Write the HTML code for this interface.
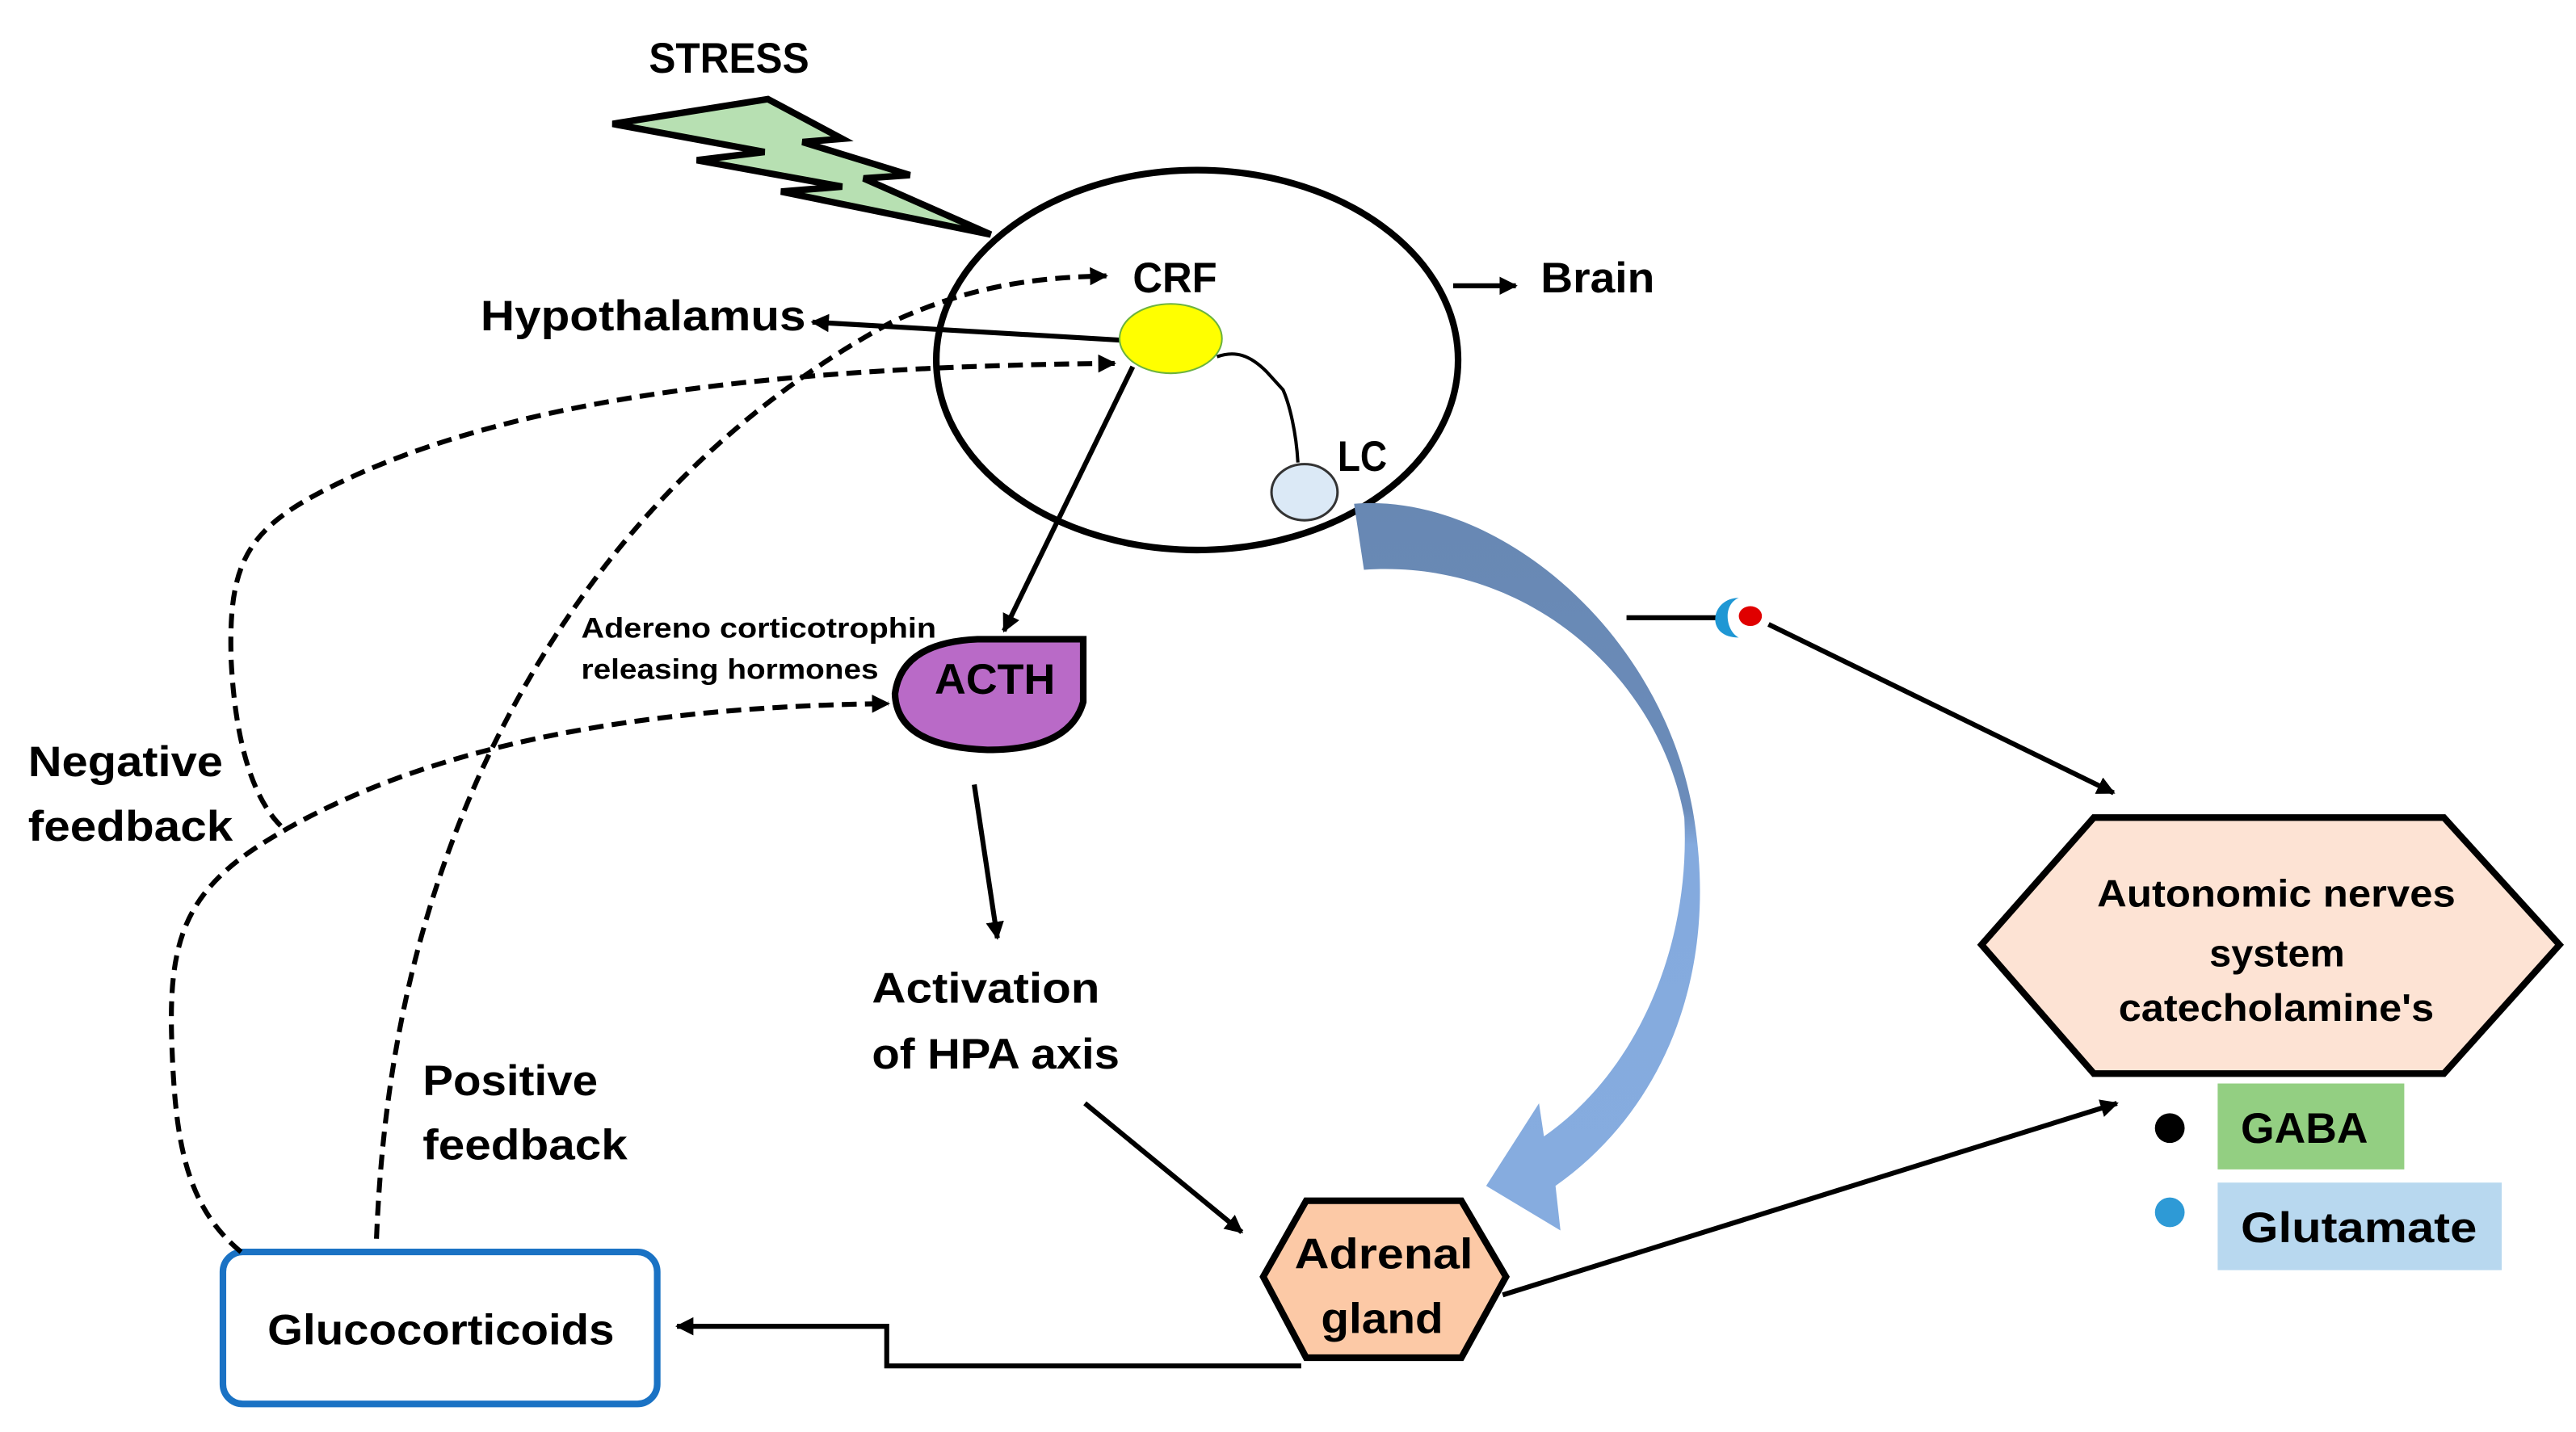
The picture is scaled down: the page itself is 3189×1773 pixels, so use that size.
<!DOCTYPE html>
<html><head><meta charset="utf-8"><style>html,body{margin:0;padding:0;background:#fff}svg{display:block}text{font-family:"Liberation Sans",sans-serif;font-weight:bold;fill:#000}</style></head>
<body>
<svg xmlns="http://www.w3.org/2000/svg" width="3189" height="1773" viewBox="0 0 1560 867" preserveAspectRatio="none">
<defs>
<marker id="ah" viewBox="0 0 10 10" refX="9" refY="5" markerWidth="5" markerHeight="5" orient="auto-start-reverse" markerUnits="userSpaceOnUse"><path d="M0,0 L10,5 L0,10 z" fill="#000"/></marker>
<marker id="ah2" viewBox="0 0 10 10" refX="9" refY="5" markerWidth="11" markerHeight="11" orient="auto" markerUnits="userSpaceOnUse"><path d="M0,0 L10,5 L0,10 z" fill="#000"/></marker>
<linearGradient id="bg" x1="0" y1="0" x2="0" y2="1"><stop offset="0" stop-color="#6888b3"/><stop offset="0.42" stop-color="#6b8cba"/><stop offset="0.47" stop-color="#84aade"/><stop offset="1" stop-color="#86acdf"/></linearGradient>
</defs>

<!-- lightning -->
<polygon points="371,75 465,60 510,84 486,86 551,106 523,108 600,142 473,116 510,113 422,97 463,92" fill="#b7e0b2" stroke="#000" stroke-width="4" stroke-linejoin="miter"/>
<text x="393" y="44" font-size="26" textLength="97" lengthAdjust="spacingAndGlyphs">STRESS</text>

<!-- big circle -->
<ellipse cx="725" cy="218" rx="158" ry="115" fill="none" stroke="#000" stroke-width="4"/>

<!-- blue curved arrow -->
<path d="M820,305 C905,298 1005,380 1025,490 C1042,585 1010,670 942,718 L945,745 L900,718 L932,668 L935,688 C990,650 1024,575 1020,495 C1005,410 925,338 826,345 Z" fill="url(#bg)"/>

<!-- CRF -->
<text x="686" y="177" font-size="26" textLength="51" lengthAdjust="spacingAndGlyphs">CRF</text>
<line x1="680" y1="206" x2="492" y2="195" stroke="#000" stroke-width="3" marker-end="url(#ah2)"/>
<ellipse cx="709" cy="205" rx="31" ry="21" fill="#ffff00" stroke="#6cb33f" stroke-width="1"/>
<text x="291" y="200" font-size="26" textLength="197" lengthAdjust="spacingAndGlyphs">Hypothalamus</text>
<line x1="880" y1="173" x2="918" y2="173" stroke="#000" stroke-width="3" marker-end="url(#ah2)"/>
<text x="933" y="177" font-size="26" textLength="69" lengthAdjust="spacingAndGlyphs">Brain</text>
<path d="M737,216 C748,212 757,215 767,225 L777,236 C781,245 785,262 786,280" fill="none" stroke="#000" stroke-width="2"/>
<ellipse cx="790" cy="298" rx="20" ry="17" fill="#dbe9f6" stroke="#333" stroke-width="1.5"/>
<text x="810" y="285" font-size="26" textLength="30" lengthAdjust="spacingAndGlyphs">LC</text>

<!-- CRF -> ACTH -->
<line x1="686" y1="222" x2="608" y2="382" stroke="#000" stroke-width="3" marker-end="url(#ah2)"/>
<path d="M542,420 Q546,389 592,387 L656,387 L656,425 Q648,454 598,454 Q543,452 542,420 Z" fill="#b96ac7" stroke="#000" stroke-width="4"/>
<text x="566" y="420" font-size="26" textLength="73" lengthAdjust="spacingAndGlyphs">ACTH</text>
<text x="352" y="386" font-size="17" textLength="215" lengthAdjust="spacingAndGlyphs">Adereno corticotrophin</text>
<text x="352" y="411" font-size="17" textLength="180" lengthAdjust="spacingAndGlyphs">releasing hormones</text>

<line x1="590" y1="475" x2="604" y2="568" stroke="#000" stroke-width="3" marker-end="url(#ah2)"/>
<text x="528" y="607" font-size="26" textLength="138" lengthAdjust="spacingAndGlyphs">Activation</text>
<text x="528" y="647" font-size="26" textLength="150" lengthAdjust="spacingAndGlyphs">of HPA axis</text>
<line x1="657" y1="668" x2="752" y2="746" stroke="#000" stroke-width="3" marker-end="url(#ah2)"/>

<!-- Adrenal -->
<polygon points="765,773 791,727 885,727 912,773 885,822 791,822" fill="#fcc9a6" stroke="#000" stroke-width="4"/>
<text x="784" y="768" font-size="26" textLength="108" lengthAdjust="spacingAndGlyphs">Adrenal</text>
<text x="800" y="807" font-size="26" textLength="74" lengthAdjust="spacingAndGlyphs">gland</text>

<!-- Glucocorticoids -->
<rect x="135" y="758" width="263" height="92" rx="12" fill="#fff" stroke="#1a72c4" stroke-width="4"/>
<text x="162" y="814" font-size="26" textLength="210" lengthAdjust="spacingAndGlyphs">Glucocorticoids</text>
<polyline points="788,827 537,827 537,803 410,803" fill="none" stroke="#000" stroke-width="3" marker-end="url(#ah2)"/>

<!-- Adrenal -> autonomic -->
<line x1="910" y1="784" x2="1282" y2="668" stroke="#000" stroke-width="3" marker-end="url(#ah2)"/>

<!-- Autonomic -->
<polygon points="1200,572 1268,495 1480,495 1550,572 1480,650 1268,650" fill="#fde3d4" stroke="#000" stroke-width="4"/>
<text x="1270" y="549" font-size="23" textLength="217" lengthAdjust="spacingAndGlyphs">Autonomic nerves</text>
<text x="1338" y="585" font-size="23" textLength="82" lengthAdjust="spacingAndGlyphs">system</text>
<text x="1283" y="618" font-size="23" textLength="191" lengthAdjust="spacingAndGlyphs">catecholamine's</text>

<!-- receptor -->
<line x1="985" y1="374" x2="1040" y2="374" stroke="#000" stroke-width="3"/>
<path d="M1053,362 C1036,362 1032,386 1053,386 C1045,382 1043,366 1053,362 Z" fill="#1f97d4"/>
<ellipse cx="1060" cy="373" rx="7" ry="6" fill="#e00000"/>
<line x1="1071" y1="378" x2="1280" y2="480" stroke="#000" stroke-width="3" marker-end="url(#ah2)"/>

<!-- legend -->
<circle cx="1314" cy="683" r="9" fill="#000"/>
<rect x="1343" y="656" width="113" height="52" fill="#93cf82"/>
<text x="1357" y="692" font-size="26" textLength="77" lengthAdjust="spacingAndGlyphs">GABA</text>
<circle cx="1314" cy="734" r="9" fill="#2e9ad6"/>
<rect x="1343" y="716" width="172" height="53" fill="#b8d8ef"/>
<text x="1357" y="752" font-size="26" textLength="143" lengthAdjust="spacingAndGlyphs">Glutamate</text>

<!-- dashed feedback lines -->
<g fill="none" stroke="#000" stroke-width="3" stroke-dasharray="9,5">
<path d="M170,500 C150,480 142,440 140,400 C138,340 150,320 200,295 C300,245 450,222 675,220" marker-end="url(#ah2)"/>
<path d="M146,758 C112,730 106,690 104,630 C102,570 112,540 160,510 C240,460 360,428 538,426" marker-end="url(#ah2)"/>
<path d="M228,750 C232,650 250,560 290,470 C340,360 420,260 540,195 C590,172 630,168 670,167" marker-end="url(#ah2)"/>
</g>
<text x="17" y="470" font-size="26" textLength="118" lengthAdjust="spacingAndGlyphs">Negative</text>
<text x="17" y="509" font-size="26" textLength="124" lengthAdjust="spacingAndGlyphs">feedback</text>
<text x="256" y="663" font-size="26" textLength="106" lengthAdjust="spacingAndGlyphs">Positive</text>
<text x="256" y="702" font-size="26" textLength="124" lengthAdjust="spacingAndGlyphs">feedback</text>
</svg>
</body></html>
